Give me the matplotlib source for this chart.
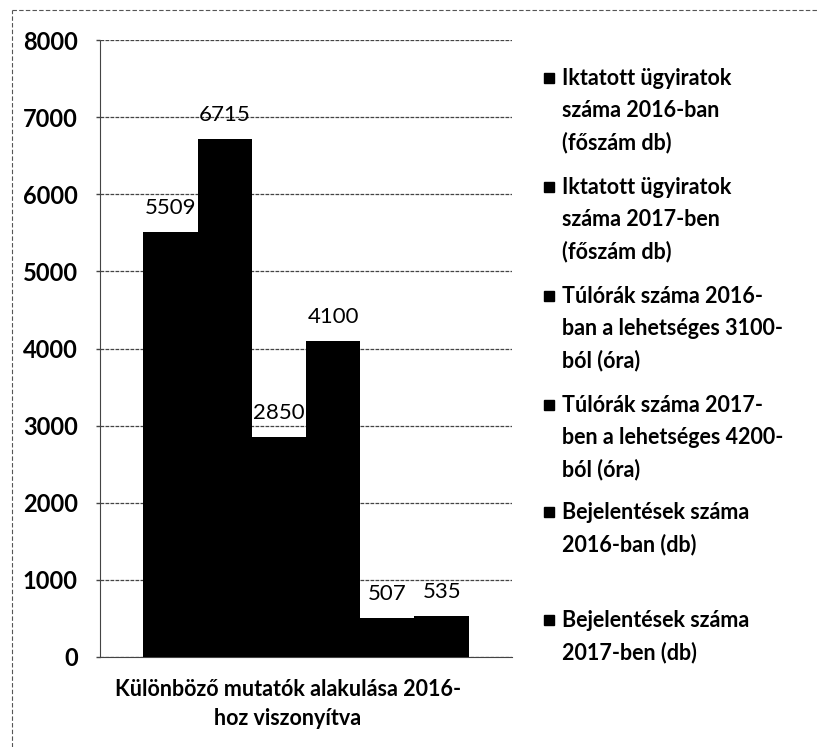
import matplotlib
matplotlib.use("Agg")
import matplotlib.pyplot as plt
from matplotlib.lines import Line2D
from matplotlib.transforms import ScaledTranslation

series = [
    "Iktatott ügyiratok\nszáma 2016-ban\n(főszám db)",
    "Iktatott ügyiratok\nszáma 2017-ben\n(főszám db)",
    "Túlórák száma 2016-\nban a lehetséges 3100-\nból (óra)",
    "Túlórák száma 2017-\nben a lehetséges 4200-\nból (óra)",
    "Bejelentések száma\n2016-ban (db)",
    "Bejelentések száma\n2017-ben (db)",
]
values = [5509, 6715, 2850, 4100, 507, 535]
category = "Különböző mutatók alakulása 2016-\nhoz viszonyítva"
yticks = [0, 1000, 2000, 3000, 4000, 5000, 6000, 7000, 8000]

plt.rcParams['font.family'] = ['Lato', 'DejaVu Sans']

W, H = 817, 747
fig = plt.figure(figsize=(W/100, H/100), dpi=100)
ax = fig.add_axes([100/W, 1-657/H, 412/W, 617/H])

n = len(values)
group = 0.79
w = group / n
for i, (v, lab) in enumerate(zip(values, series)):
    x = -group/2 + w*(i+0.5)
    ax.bar(x, v, width=w, color='black', zorder=3, label=lab)
    ax.annotate(str(v), (x, v), xytext=(0, 13), textcoords='offset points',
                ha='center', va='baseline', fontsize=16, color='black', zorder=4)

ax.set_xlim(-0.5, 0.5)
ax.set_ylim(0, 8000)
ax.set_yticks(yticks)
ax.set_yticklabels([str(t) for t in yticks], fontsize=17, fontweight='bold')
ax.set_xticks([0])
ax.set_xticklabels([category], fontsize=15.5, fontweight='bold', linespacing=1.45)
ax.tick_params(axis='x', length=0, pad=16)
ax.tick_params(axis='y', length=3, width=1, color='#444444', pad=13)
for lbl in ax.get_xticklabels():
    lbl.set_transform(lbl.get_transform() + ScaledTranslation(-0.18, 0, fig.dpi_scale_trans))
ax.grid(axis='y', color='#444444', linestyle=(0, (3, 1)), linewidth=0.9, zorder=0)
for s in ['top', 'right']:
    ax.spines[s].set_visible(False)
ax.spines['left'].set_color('#444444')
ax.spines['left'].set_linestyle((0, (3, 1)))
ax.spines['bottom'].set_color('#444444')

# legend (manual placement)
ys = [78, 187, 296, 405, 512, 620]
lh = 32
for y, lab in zip(ys, series):
    fig.add_artist(Line2D([549/W], [1 - y/H], marker='s', markersize=7.5,
                          color='black', transform=fig.transFigure))
    for k, line in enumerate(lab.split("\n")):
        yc = y + k*lh
        fig.text(562/W, 1 - (yc + 7)/H, line, ha='left', va='baseline',
                 fontsize=15.5, fontweight='bold')

# scan border
fig.add_artist(Line2D([12/W, 1.0], [1-10/H, 1-10/H], color='#555555',
                      linewidth=0.8, linestyle=(0, (4, 2)), transform=fig.transFigure))
fig.add_artist(Line2D([12/W, 12/W], [0, 1-10/H], color='#555555',
                      linewidth=0.8, linestyle=(0, (4, 2)), transform=fig.transFigure))

fig.savefig("out.png", dpi=100)
